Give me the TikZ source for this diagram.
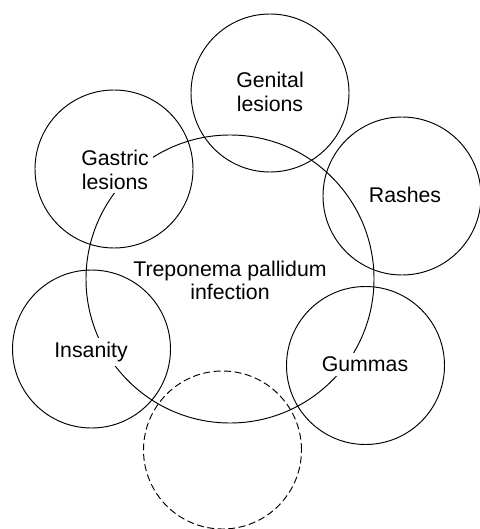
\documentclass[tikz,border=0pt]{standalone}
\usepackage{fontspec}
\setmainfont{Liberation Sans}
\begin{document}
\begin{tikzpicture}[x=1bp,y=-1bp,
  ring/.style={circle, draw, line width=0.95bp, minimum size=158bp, inner sep=0pt},
  bigring/.style={circle, draw, line width=0.95bp, minimum size=288bp, inner sep=0pt},
  dashring/.style={ring, dash pattern=on 7bp off 3.5bp},
  txt/.style={inner sep=4bp, align=center, font=\fontsize{21.3bp}{23.3bp}\selectfont},
  lbl/.style={txt, fill=white}]
\useasboundingbox (0,0) rectangle (480,529);
\node[bigring] (center) at (230,279) {};
\node[lbl] (genitalL) at (270,92) {Genital\\lesions};
\node[lbl] (gastricL) at (115,170) {Gastric\\lesions};
\node[lbl] (rashesL) at (405,194.5) {Rashes};
\node[txt] (centerL) at (230,280.7) {Treponema pallidum\\infection};
\node[lbl] (insanityL) at (91,351.7) {Insanity};
\node[lbl] (gummasL) at (365,364.5) {Gummas};
\node[ring] (genital) at (270,93) {};
\node[ring] (gastric) at (114,169) {};
\node[ring] (rashes) at (402,196) {};
\node[ring] (insanity) at (91.5,349) {};
\node[ring] (gummas) at (365.5,365.5) {};
\node[dashring] (empty) at (222.5,450) {};
\end{tikzpicture}
\end{document}
